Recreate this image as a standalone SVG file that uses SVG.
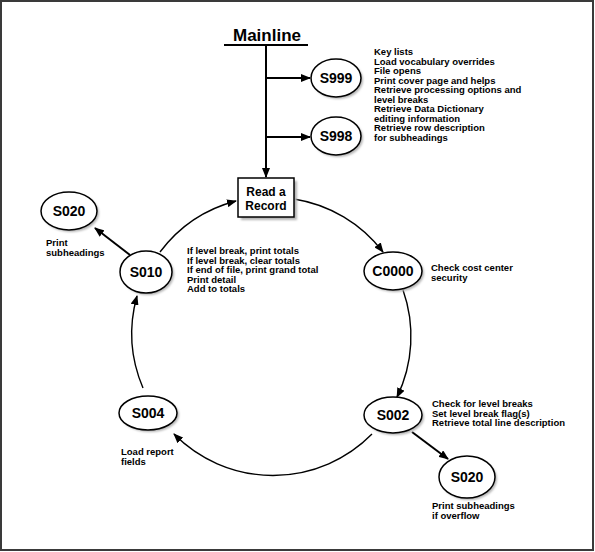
<svg xmlns="http://www.w3.org/2000/svg" width="595" height="552" viewBox="0 0 595 552">
<defs>
<marker id="ah" viewBox="0 0 10 8" refX="9" refY="4" markerWidth="10" markerHeight="8" markerUnits="userSpaceOnUse" orient="auto">
<path d="M0,0 L10,4 L0,8 Z" fill="#000"/>
</marker>
<filter id="sh" x="-20%" y="-20%" width="140%" height="140%"><feGaussianBlur stdDeviation="1"/></filter>
</defs>
<style>
.nd{fill:#fff;stroke:#000;stroke-width:1.5}
.sd{fill:#b4b4b4;filter:url(#sh)}
.lb{font-family:"Liberation Sans",Arial,sans-serif;font-weight:bold;font-size:14px;text-anchor:middle;fill:#000}
.nt{font-family:"Liberation Sans",Arial,sans-serif;font-weight:bold;font-size:9.5px;fill:#000}
.cn{fill:none;stroke:#000;stroke-width:1.4}
.st{fill:none;stroke:#000;stroke-width:2}
</style>
<rect x="0" y="0" width="595" height="552" fill="#fff"/>
<rect x="1" y="1" width="592" height="549" fill="none" stroke="#3a3a3a" stroke-width="2"/>

<g id="mainline">
<text x="267" y="41" font-family="'Liberation Sans',Arial,sans-serif" font-weight="bold" font-size="17" text-anchor="middle">Mainline</text>
<line x1="224" y1="45" x2="308" y2="45" stroke="#000" stroke-width="2"/>
</g>

<g id="connectors">
<line class="st" x1="266" y1="45" x2="266" y2="177" marker-end="url(#ah)"/>
<line class="st" x1="266" y1="78" x2="310" y2="78" marker-end="url(#ah)"/>
<line class="st" x1="266" y1="137" x2="310" y2="137" marker-end="url(#ah)"/>
<path class="cn" d="M294,199 A139,139 0 0 1 383,252" marker-end="url(#ah)"/>
<path class="cn" d="M403,290 A139,139 0 0 1 397,397" marker-end="url(#ah)"/>
<path class="cn" d="M372,434 A139,139 0 0 1 174,434" marker-end="url(#ah)"/>
<path class="cn" d="M143,388 A139,139 0 0 1 137,296" marker-end="url(#ah)"/>
<path class="cn" d="M160,252 A139,139 0 0 1 236,201" marker-end="url(#ah)"/>
<line class="st" x1="130" y1="255" x2="95" y2="228" stroke-width="1.6" marker-end="url(#ah)"/>
<line class="st" x1="412" y1="432" x2="448" y2="459" stroke-width="1.6" marker-end="url(#ah)"/>
</g>

<g id="read-record">
<rect class="sd" x="241" y="181" width="56" height="39"/>
<rect x="238" y="178" width="56" height="39" fill="#fff" stroke="#000" stroke-width="1.5"/>
<text class="lb" font-size="12" x="266" y="196" style="font-size:12px">Read a</text>
<text class="lb" x="266" y="210" style="font-size:12px">Record</text>
</g>

<g id="s999">
<ellipse class="sd" cx="338" cy="80" rx="25" ry="19"/>
<ellipse class="nd" cx="336" cy="78" rx="25" ry="19"/>
<text class="lb" x="336" y="83">S999</text>
</g>
<g id="s998">
<ellipse class="sd" cx="338" cy="138" rx="25" ry="19"/>
<ellipse class="nd" cx="336" cy="136" rx="25" ry="19"/>
<text class="lb" x="336" y="141">S998</text>
</g>
<g id="mainline-notes">
<text class="nt" x="374" y="55">Key lists</text>
<text class="nt" x="374" y="64.5">Load vocabulary overrides</text>
<text class="nt" x="374" y="74">File opens</text>
<text class="nt" x="374" y="83.5">Print cover page and helps</text>
<text class="nt" x="374" y="93">Retrieve processing options and</text>
<text class="nt" x="374" y="102.5">level breaks</text>
<text class="nt" x="374" y="112">Retrieve Data Dictionary</text>
<text class="nt" x="374" y="121.5">editing information</text>
<text class="nt" x="374" y="131">Retrieve row description</text>
<text class="nt" x="374" y="140.5">for subheadings</text>
</g>

<g id="s020-top">
<ellipse class="sd" cx="71" cy="213" rx="28" ry="19"/>
<ellipse class="nd" cx="69" cy="211" rx="28" ry="19"/>
<text class="lb" x="69" y="216">S020</text>
<text class="nt" x="46" y="246">Print</text>
<text class="nt" x="46" y="255.5">subheadings</text>
</g>

<g id="s010">
<ellipse class="sd" cx="148" cy="274" rx="26" ry="21"/>
<ellipse class="nd" cx="146" cy="272" rx="26" ry="21"/>
<text class="lb" x="146" y="277">S010</text>
<text class="nt" x="187" y="254">If level break, print totals</text>
<text class="nt" x="187" y="263.5">If level break, clear totals</text>
<text class="nt" x="187" y="273">If end of file, print grand total</text>
<text class="nt" x="187" y="282.5">Print detail</text>
<text class="nt" x="187" y="292">Add to totals</text>
</g>

<g id="c0000">
<ellipse class="sd" cx="395" cy="273" rx="29" ry="19"/>
<ellipse class="nd" cx="393" cy="271" rx="29" ry="19"/>
<text class="lb" x="393" y="276">C0000</text>
<text class="nt" x="431" y="271">Check cost center</text>
<text class="nt" x="431" y="280.5">security</text>
</g>

<g id="s002">
<ellipse class="sd" cx="395" cy="417" rx="29" ry="18"/>
<ellipse class="nd" cx="393" cy="415" rx="29" ry="18"/>
<text class="lb" x="393" y="420">S002</text>
<text class="nt" x="432" y="407">Check for level breaks</text>
<text class="nt" x="432" y="416.5">Set level break flag(s)</text>
<text class="nt" x="432" y="426">Retrieve total line description</text>
</g>

<g id="s020-bottom">
<ellipse class="sd" cx="469" cy="479" rx="28" ry="21"/>
<ellipse class="nd" cx="467" cy="477" rx="28" ry="21"/>
<text class="lb" x="467" y="482">S020</text>
<text class="nt" x="432" y="509">Print subheadings</text>
<text class="nt" x="432" y="518.5">if overflow</text>
</g>

<g id="s004">
<ellipse class="sd" cx="150" cy="415" rx="29" ry="17"/>
<ellipse class="nd" cx="148" cy="413" rx="29" ry="17"/>
<text class="lb" x="148" y="418">S004</text>
<text class="nt" x="121" y="455">Load report</text>
<text class="nt" x="121" y="464.5">fields</text>
</g>
</svg>
